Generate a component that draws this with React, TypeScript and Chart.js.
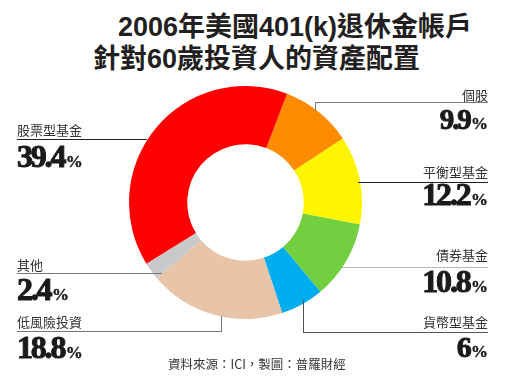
import React, { useEffect, useRef } from "react";
import { Chart, registerables } from "chart.js";

Chart.register(...registerables);

// ---- data ----
const titleLines = ["2006年美國401(k)退休金帳戶", "針對60歲投資人的資產配置"];
const categories = ["個股", "平衡型基金", "債券基金", "貨幣型基金", "低風險投資", "其他", "股票型基金"];
const values = [9.9, 12.2, 10.8, 6, 18.8, 2.4, 39.4];
const colors = ["#FF8C00", "#FFF500", "#72CF3F", "#00AEEF", "#E8C4A8", "#C8C9CA", "#FF0000"];
const sourceText = "資料來源：ICI，製圖：普羅財經";

// ---- layout (positions only) ----
type Lay = {
  side: "left" | "right";
  labelBase: number;
  numBase: number;
  numSize: number;
  lineY: number;
  x1: number;
  x2: number;
  lineColor: string;
  vx?: number;
  vy1?: number;
  vy2?: number;
};
const layouts: Lay[] = [
  { side: "right", labelBase: 99, numBase: 129, numSize: 29, lineY: 102, x1: 315, x2: 488, lineColor: "#7a7a7a", vx: 315, vy1: 102, vy2: 110 },
  { side: "right", labelBase: 176, numBase: 205, numSize: 32, lineY: 182, x1: 358, x2: 488, lineColor: "#222" },
  { side: "right", labelBase: 259, numBase: 292, numSize: 32, lineY: 267, x1: 342, x2: 488, lineColor: "#bbb" },
  { side: "right", labelBase: 326, numBase: 357, numSize: 30, lineY: 332, x1: 303, x2: 488, lineColor: "#555", vx: 303, vy1: 300, vy2: 332 },
  { side: "left", labelBase: 326, numBase: 358, numSize: 32, lineY: 331, x1: 17, x2: 222, lineColor: "#777", vx: 221, vy1: 316, vy2: 331 },
  { side: "left", labelBase: 269, numBase: 300, numSize: 32, lineY: 273, x1: 17, x2: 162, lineColor: "#777" },
  { side: "left", labelBase: 134, numBase: 167, numSize: 32, lineY: 139, x1: 17, x2: 147, lineColor: "#222" },
];

const NUM_FONT = '"Liberation Serif", "DejaVu Serif", serif';
const TITLE_FONT = '"Liberation Sans", "Noto Sans CJK TC", sans-serif';

export default function App() {
  const canvasRef = useRef<HTMLCanvasElement | null>(null);

  useEffect(() => {
    if (!canvasRef.current) return;
    const chart = new Chart(canvasRef.current, {
      type: "doughnut",
      data: {
        labels: categories,
        datasets: [
          {
            data: values,
            backgroundColor: colors,
            borderWidth: 0,
          },
        ],
      },
      options: {
        animation: false,
        responsive: false,
        rotation: 20.9,
        cutout: "50%",
        layout: { padding: 0 },
        plugins: { legend: { display: false }, tooltip: { enabled: false } },
      },
    });
    return () => chart.destroy();
  }, []);

  const abs = (s: React.CSSProperties): React.CSSProperties => ({ position: "absolute", ...s });

  return (
    <div style={abs({ left: 0, top: 0, width: 508, height: 383, background: "#fff", overflow: "hidden" })}>
      {/* title */}
      <div style={abs({ left: 118, top: 37 - 23, fontFamily: TITLE_FONT, fontWeight: 700, fontSize: 27, lineHeight: "27px", color: "#231f20", whiteSpace: "nowrap" })}>
        {titleLines[0]}
      </div>
      <div style={abs({ left: 93, top: 69 - 23, fontFamily: TITLE_FONT, fontWeight: 700, fontSize: 27, lineHeight: "27px", color: "#231f20", whiteSpace: "nowrap" })}>
        {titleLines[1]}
      </div>

      <div style={abs({ left: 129, top: 86, width: 233, height: 233 })}>
        <canvas ref={canvasRef} width={233} height={233} style={{ display: "block" }} />
      </div>

      {layouts.map((l, i) => {
        const edge = l.side === "left" ? { left: 17 } : { right: 508 - 488 };
        const align = l.side === "left" ? "left" : "right";
        const numTop = l.numBase - Math.round(l.numSize * 0.8375);
        return (
          <React.Fragment key={i}>
            <div style={abs({ top: l.lineY, left: l.x1, width: l.x2 - l.x1, height: 1, background: l.lineColor })} />
            {l.vx !== undefined && (
              <div style={abs({ left: l.vx, top: l.vy1, width: 1, height: (l.vy2 as number) - (l.vy1 as number) + 1, background: l.lineColor })} />
            )}
            <div style={abs({ ...edge, top: l.labelBase - 11, fontFamily: '"Noto Sans CJK TC", sans-serif', fontSize: 13, lineHeight: "13px", color: "#333", textAlign: align as any, whiteSpace: "nowrap" })}>
              {categories[i]}
            </div>
            <div style={abs({ ...edge, top: numTop, fontFamily: NUM_FONT, fontWeight: 700, fontSize: l.numSize, lineHeight: `${l.numSize}px`, color: "#1a1a1a", letterSpacing: "-2.2px", WebkitTextStroke: "1px #1a1a1a", textAlign: align as any, whiteSpace: "nowrap" })}>
              {String(values[i])}
              <span style={{ fontSize: 17, letterSpacing: 0, marginLeft: 1.5, WebkitTextStroke: "0.4px #1a1a1a" }}>%</span>
            </div>
          </React.Fragment>
        );
      })}

      <div style={abs({ left: 168, top: 357, fontFamily: '"Noto Sans CJK TC", sans-serif', fontSize: 12.5, lineHeight: "13px", color: "#333", whiteSpace: "nowrap" })}>
        {sourceText}
      </div>
    </div>
  );
}
